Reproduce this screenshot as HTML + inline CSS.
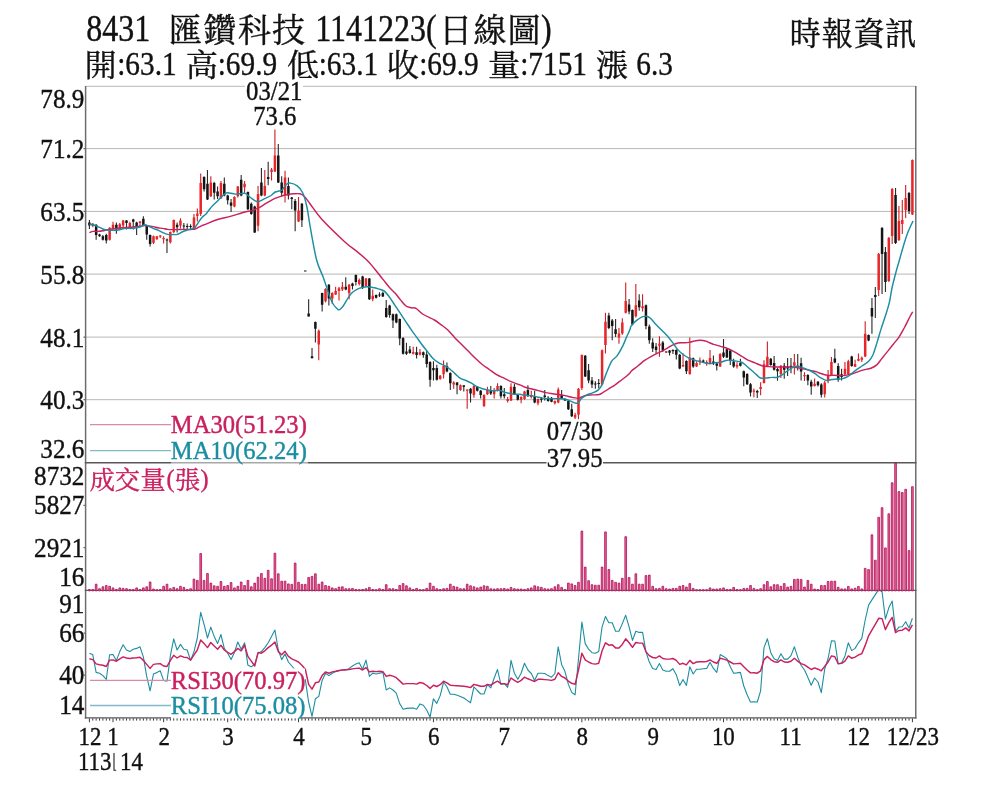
<!DOCTYPE html>
<html lang="zh-Hant"><head><meta charset="utf-8"><title>chart</title><style>html,body{margin:0;padding:0;background:#fff}body{width:1000px;height:800px;overflow:hidden}</style></head><body>
<svg width="1000" height="800" viewBox="0 0 1000 800" style="display:block;font-family:'Liberation Serif',serif">
<title>8431 匯鑽科技 1141223(日線圖) 時報資訊</title>
<desc>開:63.1 高:69.9 低:63.1 收:69.9 量:7151 漲 6.3 — 日K線、MA30(51.23)、MA10(62.24)、成交量(張)、RSI30(70.97)、RSI10(75.08)</desc>
<rect width="1000" height="800" fill="#fff"/>
<g stroke="#b8b8b8" stroke-width="1" fill="none">
<path d="M86 86.3H916"/>
<path d="M86 148.6H916"/>
<path d="M86 211.4H916"/>
<path d="M86 274.1H916"/>
<path d="M86 337.1H916"/>
<path d="M86 399.7H916"/>
</g>
<path d="M92.77 223.0V227.2M109.64 227.2V240.4M113.01 221.8V229.6M119.76 223.0V230.2M123.13 220.0V228.4M129.88 221.8V228.4M140.00 221.0V226.0M153.49 235.6V244.0M156.86 236.0V239.8M160.23 235.1V238.0M163.61 236.2V243.4M170.35 231.4V243.4M173.73 219.4V233.2M180.47 218.2V228.4M193.96 214.0V229.8M197.34 208.5V221.6M200.71 173.5V216.1M210.83 176.2V196.9M220.95 181.0V198.9M234.44 196.2V207.2M237.81 185.9V197.5M244.56 181.0V192.7M258.05 185.9V231.2M264.80 170.1V196.2M271.54 168.0V180.4M274.92 129.5V172.1M285.03 170.7V202.4M298.53 196.9V221.9M318.76 329.4V360.3M325.51 288.2V302.6M332.26 292.3V304.0M335.63 286.8V295.1M339.00 286.8V300.5M342.38 282.0V290.9M349.12 284.1V299.2M359.24 278.6V285.4M365.99 277.9V286.8M372.73 289.6V301.2M413.21 346.8V354.4M419.95 349.1V355.5M440.19 375.0V379.8M443.57 360.5V378.4M453.68 381.2V388.7M460.43 384.6V390.8M467.18 389.4V408.7M473.92 385.3V397.7M484.04 394.2V406.9M487.41 386.7V394.9M494.16 388.0V398.4M497.53 383.2V391.5M507.65 397.0V402.5M511.02 383.2V401.1M521.14 396.3V403.2M524.52 390.8V399.7M531.26 390.8V398.4M538.01 398.4V405.2M554.87 400.4V404.5M558.25 387.4V403.2M575.11 412.8V419.0M578.49 388.0V419.2M581.86 354.4V390.1M602.10 349.6V385.3M605.47 312.8V353.4M618.96 327.9V343.7M622.33 318.3V334.8M625.71 282.6V313.5M635.83 283.9V317.6M642.57 294.2V311.4M659.44 336.2V356.8M666.18 350.9V353.1M683.05 353.4V366.7M689.79 337.5V374.7M696.54 361.6V367.1M699.91 357.4V365.0M706.66 360.2V365.7M710.03 349.9V363.6M720.15 353.3V367.0M737.02 362.2V368.4M753.88 388.4V397.3M760.63 382.2V395.2M764.00 360.2V383.5M767.37 341.6V367.0M780.87 365.0V378.0M794.36 354.0V374.6M804.48 372.2V381.1M814.60 378.4V386.6M824.71 381.1V397.6M828.09 370.1V383.2M831.46 357.0V375.6M844.95 361.9V376.3M848.33 359.8V374.9M855.07 359.8V367.1M858.44 353.6V361.2M861.82 356.4V361.9M865.19 321.3V357.0M878.68 253.0V296.0M888.80 237.0V282.0M892.17 188.0V244.0M898.92 206.0V241.0M902.29 200.0V234.0M905.67 185.0V218.0M912.41 159.5V215.0" stroke="#cf1f25" stroke-width="1.1" fill="none"/>
<path d="M89.40 220.0V229.0M96.15 224.2V239.8M99.52 233.8V236.8M102.89 235.0V240.6M106.27 233.8V243.4M116.38 222.4V233.8M126.50 220.0V229.6M133.25 218.8V229.6M136.62 221.8V235.0M143.37 216.2V226.0M146.74 225.4V239.8M150.11 234.4V246.4M166.98 238.6V253.0M177.10 222.4V232.6M183.84 223.0V230.2M187.22 223.6V229.6M190.59 224.2V229.0M204.08 176.2V191.4M207.46 170.1V199.9M214.20 181.7V199.6M217.57 186.5V198.9M224.32 177.6V196.2M227.69 194.8V204.4M231.07 198.9V212.0M241.19 174.9V196.2M247.93 191.4V209.9M251.30 202.4V214.7M254.68 205.8V232.9M261.42 168.0V196.2M268.17 161.8V185.2M278.29 143.9V183.1M281.66 176.2V196.2M288.41 177.6V199.6M291.78 196.9V209.2M295.15 198.9V231.2M301.90 203.0V227.1M305.27 270.9V271.1M308.64 299.2V316.4M312.02 348.0V358.3M315.39 321.6V342.5M322.14 292.7V311.5M328.88 284.1V305.4M345.75 277.2V290.2M352.49 282.7V289.6M355.87 274.4V285.4M362.61 275.8V288.9M369.36 277.9V299.9M376.11 294.4V298.5M379.48 292.3V297.1M382.85 291.6V297.1M386.22 299.9V317.7M389.60 304.7V317.7M392.97 313.6V328.0M396.34 313.6V323.2M399.72 318.4V345.2M403.09 337.2V354.4M406.46 342.7V355.1M409.84 346.1V353.7M416.58 346.8V358.5M423.33 351.6V357.8M426.70 350.9V367.4M430.07 361.2V386.7M433.45 361.2V380.5M436.82 364.7V380.5M446.94 362.6V372.2M450.31 372.2V390.1M457.06 381.9V394.2M463.80 385.3V391.5M470.55 388.0V402.5M477.30 386.0V391.5M480.67 390.1V398.4M490.79 386.0V394.9M500.91 385.3V398.4M504.28 388.0V398.4M514.40 383.9V394.9M517.77 394.2V400.4M527.89 385.3V397.0M534.64 390.8V403.2M541.38 397.0V402.5M544.75 390.1V400.4M548.13 396.3V401.8M551.50 397.0V402.2M561.62 390.1V399.0M564.99 398.4V401.1M568.37 400.4V410.0M571.74 403.8V416.9M585.23 355.1V377.0M588.60 364.0V383.2M591.98 377.0V388.0M595.35 381.2V388.7M598.72 379.1V388.0M608.84 312.8V329.3M612.22 319.0V340.3M615.59 319.0V336.9M629.08 299.1V314.2M632.45 309.4V325.2M639.20 294.2V310.7M645.95 304.6V329.3M649.32 324.5V343.7M652.69 338.2V352.0M656.06 343.0V353.4M662.81 341.0V352.0M669.56 349.9V355.4M672.93 349.2V354.0M676.30 349.2V359.5M679.68 354.0V369.2M686.42 360.2V374.0M693.17 357.5V367.8M703.29 359.5V362.9M713.40 355.4V365.0M716.78 362.9V370.5M723.52 338.9V358.1M726.90 348.5V358.1M730.27 349.9V365.0M733.64 358.8V367.7M740.39 358.8V366.4M743.76 370.5V386.3M747.13 373.2V384.9M750.51 382.9V396.6M757.25 389.7V398.0M770.75 358.1V365.7M774.12 356.0V370.5M777.49 367.7V380.8M784.24 362.9V378.7M787.61 358.1V376.0M790.98 358.1V373.2M797.73 354.0V370.5M801.10 357.7V380.4M807.85 374.2V385.2M811.22 379.7V394.8M817.97 381.1V386.6M821.34 383.2V397.6M834.83 348.8V363.2M838.21 363.2V381.8M841.58 368.7V380.4M851.70 355.7V366.7M868.56 334.4V341.2M871.94 298.0V333.7M875.31 287.0V318.0M882.06 227.0V294.0M885.43 247.0V292.0M895.55 188.0V244.0M909.04 192.0V214.0" stroke="#2a2a2a" stroke-width="1.1" fill="none"/>
<path d="M91.52 223.8h2.5V226.0h-2.5zM108.39 227.8h2.5V239.8h-2.5zM111.76 224.8h2.5V229.0h-2.5zM118.51 224.2h2.5V229.6h-2.5zM121.88 220.6h2.5V225.4h-2.5zM128.63 223.0h2.5V227.8h-2.5zM138.75 221.4h2.5V223.0h-2.5zM152.24 236.2h2.5V242.8h-2.5zM155.61 236.2h2.5V239.2h-2.5zM158.98 235.4h2.5V236.4h-2.5zM162.36 238.0h2.5V239.2h-2.5zM169.10 232.0h2.5V242.2h-2.5zM172.48 220.0h2.5V232.0h-2.5zM179.22 220.6h2.5V225.4h-2.5zM192.71 217.5h2.5V228.5h-2.5zM196.09 213.4h2.5V216.1h-2.5zM199.46 183.1h2.5V214.0h-2.5zM209.58 182.4h2.5V196.2h-2.5zM219.70 183.1h2.5V198.2h-2.5zM233.19 196.9h2.5V206.5h-2.5zM236.56 186.5h2.5V196.2h-2.5zM243.31 183.8h2.5V187.2h-2.5zM256.80 194.1h2.5V225.7h-2.5zM263.55 185.9h2.5V195.5h-2.5zM270.29 169.4h2.5V172.1h-2.5zM273.67 155.6h2.5V171.4h-2.5zM283.78 177.6h2.5V195.5h-2.5zM297.28 210.6h2.5V221.6h-2.5zM317.51 330.8h2.5V344.5h-2.5zM324.26 288.9h2.5V301.2h-2.5zM331.01 293.0h2.5V298.5h-2.5zM334.38 290.9h2.5V294.4h-2.5zM337.75 288.2h2.5V290.9h-2.5zM341.12 286.8h2.5V289.6h-2.5zM347.87 284.7h2.5V293.0h-2.5zM357.99 279.9h2.5V284.1h-2.5zM364.74 278.6h2.5V286.1h-2.5zM371.48 295.7h2.5V299.2h-2.5zM411.96 351.9h2.5V353.7h-2.5zM418.70 352.3h2.5V354.4h-2.5zM438.94 375.7h2.5V379.1h-2.5zM442.32 366.0h2.5V374.3h-2.5zM452.43 382.5h2.5V384.6h-2.5zM459.18 385.3h2.5V390.1h-2.5zM465.93 389.4h2.5V390.8h-2.5zM472.67 386.0h2.5V394.9h-2.5zM482.79 394.9h2.5V405.9h-2.5zM486.16 389.4h2.5V394.2h-2.5zM492.91 390.1h2.5V394.2h-2.5zM496.28 386.0h2.5V390.8h-2.5zM506.40 399.0h2.5V401.1h-2.5zM509.77 386.7h2.5V400.4h-2.5zM519.89 397.0h2.5V399.7h-2.5zM523.27 391.5h2.5V399.0h-2.5zM530.01 394.9h2.5V397.0h-2.5zM536.76 399.0h2.5V403.2h-2.5zM553.62 401.1h2.5V403.2h-2.5zM557.00 389.4h2.5V402.5h-2.5zM573.86 414.8h2.5V417.6h-2.5zM577.24 388.7h2.5V414.8h-2.5zM580.61 355.1h2.5V388.0h-2.5zM600.85 350.2h2.5V384.6h-2.5zM604.22 321.7h2.5V345.1h-2.5zM617.71 333.4h2.5V337.5h-2.5zM621.08 322.4h2.5V333.4h-2.5zM624.46 301.1h2.5V312.8h-2.5zM634.58 305.2h2.5V316.2h-2.5zM641.32 306.3h2.5V308.3h-2.5zM658.19 343.7h2.5V345.8h-2.5zM664.93 351.3h2.5V352.7h-2.5zM681.80 365.0h2.5V366.4h-2.5zM688.54 357.5h2.5V374.0h-2.5zM695.29 363.0h2.5V366.4h-2.5zM698.66 360.2h2.5V362.2h-2.5zM705.41 362.0h2.5V363.9h-2.5zM708.78 358.1h2.5V362.9h-2.5zM718.90 354.0h2.5V366.4h-2.5zM735.77 365.0h2.5V366.4h-2.5zM752.63 390.4h2.5V391.8h-2.5zM759.38 387.0h2.5V389.0h-2.5zM762.75 364.3h2.5V382.9h-2.5zM766.12 356.7h2.5V366.4h-2.5zM779.62 365.7h2.5V373.9h-2.5zM793.11 362.2h2.5V365.7h-2.5zM803.23 374.9h2.5V376.3h-2.5zM813.35 383.8h2.5V385.9h-2.5zM823.46 382.5h2.5V394.2h-2.5zM826.84 374.9h2.5V380.4h-2.5zM830.21 361.9h2.5V374.9h-2.5zM843.70 368.7h2.5V374.2h-2.5zM847.08 361.2h2.5V374.2h-2.5zM853.82 363.9h2.5V366.7h-2.5zM857.19 359.1h2.5V360.8h-2.5zM860.57 357.7h2.5V359.8h-2.5zM863.94 333.7h2.5V356.4h-2.5zM877.43 254.0h2.5V290.0h-2.5zM887.55 238.0h2.5V281.0h-2.5zM890.92 189.0h2.5V236.0h-2.5zM897.67 221.0h2.5V240.0h-2.5zM901.04 220.0h2.5V224.0h-2.5zM904.42 198.0h2.5V210.0h-2.5zM911.16 160.0h2.5V214.5h-2.5z" fill="#e8262a"/>
<path d="M88.15 222.4h2.5V225.4h-2.5zM94.90 224.8h2.5V235.0h-2.5zM98.27 234.4h2.5V236.2h-2.5zM101.64 236.2h2.5V239.8h-2.5zM105.02 235.0h2.5V240.4h-2.5zM115.13 224.8h2.5V229.6h-2.5zM125.25 220.6h2.5V223.0h-2.5zM132.00 219.4h2.5V221.8h-2.5zM135.37 222.4h2.5V226.0h-2.5zM142.12 218.8h2.5V225.4h-2.5zM145.49 226.0h2.5V234.4h-2.5zM148.86 235.0h2.5V244.0h-2.5zM165.73 239.4h2.5V240.4h-2.5zM175.85 224.8h2.5V227.2h-2.5zM182.59 225.4h2.5V226.6h-2.5zM185.97 226.0h2.5V227.0h-2.5zM189.34 226.0h2.5V227.0h-2.5zM202.83 176.9h2.5V189.3h-2.5zM206.21 183.8h2.5V199.6h-2.5zM212.95 183.1h2.5V192.7h-2.5zM216.32 191.4h2.5V196.2h-2.5zM223.07 183.8h2.5V195.5h-2.5zM226.44 195.5h2.5V200.3h-2.5zM229.82 202.4h2.5V205.8h-2.5zM239.94 179.7h2.5V195.5h-2.5zM246.68 192.0h2.5V209.2h-2.5zM250.05 203.7h2.5V214.0h-2.5zM253.43 206.5h2.5V232.6h-2.5zM260.17 182.4h2.5V195.5h-2.5zM266.92 176.9h2.5V179.0h-2.5zM277.04 155.6h2.5V182.4h-2.5zM280.41 182.4h2.5V192.7h-2.5zM287.16 185.9h2.5V195.5h-2.5zM290.53 197.5h2.5V198.9h-2.5zM293.90 201.0h2.5V210.6h-2.5zM300.65 203.7h2.5V220.2h-2.5zM304.02 270.5h2.5V271.5h-2.5zM307.39 313.6h2.5V316.4h-2.5zM310.77 356.2h2.5V358.3h-2.5zM314.14 321.9h2.5V328.7h-2.5zM320.89 293.0h2.5V304.7h-2.5zM327.63 284.7h2.5V298.5h-2.5zM344.50 286.8h2.5V289.6h-2.5zM351.24 283.4h2.5V286.1h-2.5zM354.62 275.1h2.5V282.0h-2.5zM361.36 276.5h2.5V287.5h-2.5zM368.11 278.6h2.5V299.2h-2.5zM374.86 295.1h2.5V297.8h-2.5zM378.23 294.4h2.5V295.5h-2.5zM381.60 293.0h2.5V296.4h-2.5zM384.97 308.1h2.5V317.0h-2.5zM388.35 305.4h2.5V315.0h-2.5zM391.72 314.3h2.5V320.5h-2.5zM395.09 314.3h2.5V322.5h-2.5zM398.47 319.1h2.5V338.4h-2.5zM401.84 337.9h2.5V353.7h-2.5zM405.21 351.6h2.5V353.7h-2.5zM408.59 349.6h2.5V353.0h-2.5zM415.33 352.3h2.5V355.1h-2.5zM422.08 352.3h2.5V355.1h-2.5zM425.45 354.4h2.5V364.0h-2.5zM428.82 361.9h2.5V379.8h-2.5zM432.20 368.1h2.5V370.2h-2.5zM435.57 368.1h2.5V379.8h-2.5zM445.69 366.0h2.5V371.5h-2.5zM449.06 372.9h2.5V383.2h-2.5zM455.81 382.5h2.5V385.3h-2.5zM462.55 385.3h2.5V386.7h-2.5zM469.30 388.7h2.5V393.5h-2.5zM476.05 386.7h2.5V390.8h-2.5zM479.42 390.8h2.5V394.9h-2.5zM489.54 390.1h2.5V393.5h-2.5zM499.66 386.0h2.5V396.3h-2.5zM503.03 394.2h2.5V396.3h-2.5zM513.15 386.7h2.5V394.2h-2.5zM516.52 394.9h2.5V399.7h-2.5zM526.64 390.1h2.5V394.9h-2.5zM533.39 396.3h2.5V402.5h-2.5zM540.13 398.6h2.5V399.7h-2.5zM543.50 395.6h2.5V397.0h-2.5zM546.88 397.7h2.5V401.1h-2.5zM550.25 397.7h2.5V401.8h-2.5zM560.37 394.9h2.5V398.4h-2.5zM563.74 399.0h2.5V400.4h-2.5zM567.12 401.1h2.5V409.3h-2.5zM570.49 409.3h2.5V416.2h-2.5zM583.98 355.7h2.5V376.4h-2.5zM587.35 370.2h2.5V380.5h-2.5zM590.73 380.5h2.5V384.6h-2.5zM594.10 383.5h2.5V384.6h-2.5zM597.47 382.9h2.5V383.9h-2.5zM607.59 315.5h2.5V327.9h-2.5zM610.97 320.4h2.5V325.9h-2.5zM614.34 329.3h2.5V334.1h-2.5zM627.83 304.6h2.5V311.4h-2.5zM631.20 310.1h2.5V324.5h-2.5zM637.95 300.4h2.5V307.3h-2.5zM644.70 305.2h2.5V325.9h-2.5zM648.07 326.5h2.5V340.3h-2.5zM651.44 342.4h2.5V348.5h-2.5zM654.81 346.5h2.5V349.9h-2.5zM661.56 342.4h2.5V350.6h-2.5zM668.31 350.6h2.5V352.7h-2.5zM671.68 349.9h2.5V351.3h-2.5zM675.05 349.9h2.5V354.7h-2.5zM678.43 354.7h2.5V368.5h-2.5zM685.17 360.9h2.5V371.2h-2.5zM691.92 358.2h2.5V366.4h-2.5zM702.04 360.6h2.5V361.7h-2.5zM712.15 361.5h2.5V363.6h-2.5zM715.53 363.6h2.5V365.7h-2.5zM722.27 352.6h2.5V356.7h-2.5zM725.65 349.2h2.5V357.4h-2.5zM729.02 350.5h2.5V360.9h-2.5zM732.39 361.5h2.5V366.4h-2.5zM739.14 362.9h2.5V365.7h-2.5zM742.51 371.2h2.5V377.4h-2.5zM745.88 373.9h2.5V384.2h-2.5zM749.26 384.2h2.5V392.5h-2.5zM756.00 391.1h2.5V392.5h-2.5zM769.50 358.8h2.5V365.0h-2.5zM772.87 362.9h2.5V369.8h-2.5zM776.24 369.1h2.5V371.2h-2.5zM782.99 365.7h2.5V369.8h-2.5zM786.36 366.4h2.5V368.4h-2.5zM789.73 365.7h2.5V367.7h-2.5zM796.48 365.7h2.5V367.0h-2.5zM799.85 363.2h2.5V371.5h-2.5zM806.60 374.9h2.5V380.4h-2.5zM809.97 381.8h2.5V386.6h-2.5zM816.72 381.8h2.5V385.2h-2.5zM820.09 384.5h2.5V394.8h-2.5zM833.58 358.4h2.5V362.5h-2.5zM836.96 366.0h2.5V379.7h-2.5zM840.33 374.2h2.5V377.0h-2.5zM850.45 356.4h2.5V366.0h-2.5zM867.31 335.1h2.5V340.5h-2.5zM870.69 308.0h2.5V316.5h-2.5zM874.06 295.0h2.5V297.0h-2.5zM880.81 228.0h2.5V254.0h-2.5zM884.18 252.0h2.5V282.0h-2.5zM894.30 195.0h2.5V243.0h-2.5zM907.79 193.0h2.5V211.0h-2.5z" fill="#151515"/>
<path d="M89.4 232.6C90.0 232.4 91.8 231.6 93.2 231.4C94.6 231.2 96.4 231.5 98.0 231.4C99.6 231.3 101.2 231.1 102.8 230.8C104.4 230.5 106.0 229.9 107.6 229.6C109.2 229.3 110.8 229.2 112.4 229.0C114.0 228.8 115.6 228.6 117.2 228.4C118.8 228.2 120.4 228.0 122.0 227.8C123.6 227.6 125.2 227.5 126.8 227.4C128.4 227.3 130.0 227.3 131.6 227.2C133.2 227.1 134.8 226.8 136.4 226.6C138.0 226.4 139.8 226.2 141.2 226.0C142.6 225.8 143.6 225.4 144.8 225.4C146.0 225.4 147.0 225.8 148.4 226.0C149.8 226.2 151.6 226.3 153.2 226.6C154.8 226.9 156.4 227.5 158.0 227.8C159.6 228.1 161.2 228.1 162.8 228.4C164.4 228.7 166.0 229.2 167.6 229.4C169.2 229.6 170.8 229.6 172.4 229.6C174.0 229.6 175.6 229.6 177.2 229.6C178.8 229.6 180.4 229.4 182.0 229.4C183.6 229.3 185.2 229.4 186.8 229.4C188.4 229.4 190.2 229.4 191.6 229.4C193.0 229.3 194.0 229.4 195.2 229.0C196.4 228.6 197.6 227.8 198.8 227.2C200.0 226.6 201.2 225.9 202.4 225.4C203.6 224.9 203.5 225.2 206.0 224.2C208.5 223.2 213.3 220.9 217.5 219.5C221.7 218.2 226.7 217.4 231.2 216.1C235.8 214.8 241.5 212.9 245.0 212.0C248.4 211.1 249.6 211.3 251.9 210.6C254.1 209.9 256.4 209.0 258.7 207.9C261.0 206.7 263.3 205.1 265.6 203.7C267.9 202.4 270.2 200.8 272.5 199.6C274.8 198.5 277.1 197.7 279.3 196.9C281.6 196.1 283.9 195.3 286.2 194.8C288.5 194.3 290.8 194.0 293.1 193.8C295.4 193.7 298.1 193.4 300.0 193.8C301.8 194.2 302.4 194.5 304.1 196.2C305.8 197.8 307.0 199.8 310.0 203.7C313.0 207.6 316.2 213.1 322.0 219.5C327.8 225.8 339.2 236.7 344.9 242.0C350.7 247.3 352.8 248.1 356.5 251.1C360.1 254.1 364.0 257.4 366.8 260.0C369.5 262.6 371.0 264.6 373.0 266.9C374.9 269.2 376.6 271.5 378.5 273.7C380.3 276.0 382.1 278.3 384.0 280.6C385.8 282.9 387.6 285.4 389.5 287.5C391.3 289.6 393.1 290.9 395.0 293.0C396.8 295.1 398.6 297.7 400.5 299.9C402.3 302.0 404.1 304.7 406.0 306.0C407.8 307.4 409.8 307.4 411.5 307.8C413.1 308.2 414.0 307.3 416.0 308.4C418.0 309.5 420.3 312.6 423.4 314.5C426.4 316.4 431.4 318.3 434.4 320.0C437.3 321.7 438.9 323.1 441.2 324.8C443.5 326.5 445.8 328.1 448.1 330.3C450.4 332.5 452.7 335.5 455.0 337.9C457.3 340.3 459.6 342.5 461.9 344.7C464.1 347.0 466.4 349.3 468.7 351.6C471.0 353.9 473.3 356.3 475.6 358.5C477.9 360.7 480.2 362.8 482.5 364.7C484.8 366.5 487.1 367.9 489.3 369.5C491.6 371.1 493.9 372.9 496.2 374.3C498.5 375.7 500.8 376.6 503.1 377.7C505.4 378.9 507.7 380.1 510.0 381.2C512.3 382.2 515.2 383.3 516.8 383.9C518.5 384.5 518.8 384.4 520.0 384.9C521.2 385.3 522.0 386.0 523.7 386.7C525.5 387.3 528.3 388.1 530.6 388.7C532.9 389.3 535.2 389.8 537.5 390.4C539.8 391.0 542.1 391.6 544.4 392.2C546.7 392.7 548.9 393.2 551.2 393.5C553.5 393.9 555.8 394.2 558.1 394.5C560.4 394.8 562.7 395.1 565.0 395.6C567.3 396.1 569.6 396.8 571.9 397.3C574.1 397.7 577.1 398.4 578.7 398.4C580.3 398.3 580.1 397.5 581.5 397.0C582.9 396.5 585.1 395.7 587.0 395.3C588.8 395.0 590.4 395.1 592.5 394.9C594.5 394.8 597.5 395.0 599.3 394.5C601.2 394.0 601.9 393.1 603.5 392.2C605.1 391.2 607.1 389.9 609.0 388.7C610.8 387.6 612.6 386.6 614.5 385.3C616.3 384.0 618.1 382.5 620.0 381.2C621.8 379.8 623.8 378.4 625.5 377.0C627.1 375.7 629.0 373.9 630.0 372.9C631.0 372.0 629.9 372.4 631.2 371.2C632.6 370.0 635.8 367.6 638.1 365.7C640.4 363.9 642.7 361.8 645.0 360.2C647.3 358.6 649.6 357.4 651.9 356.1C654.1 354.8 656.4 353.8 658.7 352.7C661.0 351.5 663.3 350.5 665.6 349.2C667.9 348.0 670.4 346.1 672.5 345.1C674.5 344.1 676.1 343.4 678.0 343.0C679.8 342.7 681.6 342.9 683.5 342.8C685.3 342.7 687.1 342.7 689.0 342.4C690.8 342.1 692.6 341.3 694.5 341.0C696.3 340.6 698.1 340.3 700.0 340.3C701.8 340.3 703.8 340.5 705.5 341.0C707.1 341.4 708.6 342.5 710.0 343.0C711.4 343.6 712.0 343.8 713.7 344.4C715.5 344.9 718.3 345.7 720.6 346.4C722.9 347.1 725.2 347.6 727.5 348.5C729.8 349.4 732.1 350.7 734.4 351.9C736.7 353.2 738.9 354.7 741.2 356.0C743.5 357.4 745.8 359.0 748.1 360.2C750.4 361.3 752.7 362.0 755.0 362.9C757.3 363.8 759.6 365.1 761.9 365.7C764.1 366.3 766.4 366.4 768.7 366.6C771.0 366.9 773.3 367.0 775.6 367.0C777.9 367.1 780.2 367.0 782.5 367.0C784.8 367.0 787.1 367.0 789.3 367.0C791.6 367.1 793.9 367.2 796.2 367.5C798.5 367.8 800.8 368.3 803.1 368.8C805.4 369.3 807.7 370.0 810.0 370.5C812.3 371.0 815.2 371.4 816.8 371.9C818.5 372.3 818.2 372.7 820.0 373.2C821.8 373.8 825.1 375.0 827.5 375.3C829.9 375.7 832.1 375.3 834.4 375.3C836.7 375.4 838.9 375.7 841.2 375.6C843.5 375.5 845.8 375.4 848.1 374.9C850.4 374.5 852.7 373.6 855.0 372.9C857.3 372.1 859.6 371.1 861.9 370.4C864.1 369.7 867.1 369.1 868.7 368.7C870.3 368.3 870.1 368.7 871.5 368.0C872.9 367.4 875.1 366.3 877.0 364.6C878.8 362.9 880.6 360.0 882.5 357.7C884.3 355.4 886.1 353.2 888.0 350.9C889.8 348.6 891.6 346.3 893.5 344.0C895.3 341.7 897.1 339.9 899.0 337.1C900.8 334.4 902.6 330.9 904.5 327.5C906.3 324.1 908.6 319.1 910.0 316.5C911.3 313.9 912.3 312.5 912.7 311.7" stroke="#c9205e" stroke-width="1.45" fill="none" stroke-linejoin="round"/>
<path d="M89.4 224.2C90.0 224.3 91.8 224.4 93.2 224.8C94.6 225.2 96.4 225.9 98.0 226.6C99.6 227.3 101.2 228.4 102.8 229.0C104.4 229.6 106.0 230.0 107.6 230.2C109.2 230.4 110.8 230.2 112.4 230.2C114.0 230.2 115.6 230.4 117.2 230.2C118.8 230.0 120.4 229.3 122.0 229.0C123.6 228.7 125.2 228.5 126.8 228.4C128.4 228.3 130.0 228.5 131.6 228.4C133.2 228.3 134.8 228.1 136.4 227.8C138.0 227.5 139.8 227.1 141.2 226.6C142.6 226.1 143.6 224.9 144.8 224.8C146.0 224.7 147.0 225.4 148.4 226.0C149.8 226.6 151.6 227.7 153.2 228.4C154.8 229.1 156.4 229.5 158.0 230.2C159.6 230.9 161.2 231.9 162.8 232.6C164.4 233.3 166.0 234.1 167.6 234.4C169.2 234.7 170.8 234.6 172.4 234.6C174.0 234.6 175.6 234.8 177.2 234.4C178.8 234.0 180.4 232.7 182.0 232.0C183.6 231.3 185.2 230.7 186.8 230.2C188.4 229.7 190.2 229.5 191.6 229.0C193.0 228.5 194.0 228.4 195.2 227.2C196.4 226.0 197.6 223.5 198.8 221.8C200.0 220.1 201.2 218.3 202.4 217.0C203.6 215.7 204.6 215.5 206.0 214.0C207.4 212.5 208.7 210.0 210.6 207.9C212.5 205.7 215.2 203.3 217.5 201.0C219.8 198.7 222.6 195.5 224.4 194.1C226.1 192.7 226.0 192.7 227.8 192.7C229.6 192.7 232.5 194.0 235.4 194.1C238.2 194.2 242.5 192.8 245.0 193.4C247.5 194.0 248.4 196.2 250.5 197.5C252.5 198.9 255.1 201.4 257.4 201.7C259.6 201.9 261.9 199.9 264.2 198.9C266.5 197.9 269.3 196.6 271.1 195.5C272.9 194.3 273.4 193.0 275.2 192.0C277.1 191.1 280.3 191.2 282.1 190.0C283.9 188.7 284.8 185.6 286.2 184.5C287.6 183.3 288.5 182.9 290.3 183.1C292.2 183.3 295.2 184.3 297.2 185.9C299.3 187.5 301.1 189.3 302.7 192.7C304.3 196.2 305.6 201.0 306.8 206.5C308.1 212.0 308.4 216.8 310.0 225.7C311.6 234.6 314.4 251.3 316.6 260.0C318.9 268.7 321.4 272.1 323.5 277.9C325.6 283.6 327.4 290.0 329.0 294.4C330.6 298.7 331.7 301.6 333.1 304.0C334.5 306.4 336.2 307.8 337.2 308.8C338.3 309.8 338.4 310.1 339.3 309.8C340.2 309.4 341.5 308.4 342.7 306.7C344.0 305.1 345.5 302.0 346.9 299.9C348.2 297.7 349.4 295.4 351.0 293.7C352.6 292.0 354.6 290.6 356.5 289.6C358.3 288.5 360.1 287.9 362.0 287.5C363.8 287.0 365.6 286.8 367.5 286.8C369.3 286.8 371.1 287.1 373.0 287.5C374.8 287.8 376.6 288.3 378.5 288.9C380.3 289.4 382.1 289.6 384.0 290.9C385.8 292.3 387.6 294.7 389.5 297.1C391.3 299.5 393.1 302.6 395.0 305.4C396.8 308.1 398.6 310.9 400.5 313.6C402.3 316.4 404.1 319.1 406.0 321.9C407.8 324.6 409.8 327.7 411.5 330.1C413.1 332.5 414.2 333.8 416.0 336.3C417.8 338.7 420.1 342.2 422.0 344.7C423.9 347.3 425.7 349.3 427.5 351.6C429.3 353.9 431.2 356.7 433.0 358.5C434.8 360.3 436.7 361.5 438.5 362.6C440.3 363.8 442.2 364.3 444.0 365.4C445.8 366.4 447.7 367.4 449.5 368.8C451.3 370.2 453.2 372.0 455.0 373.6C456.8 375.2 458.6 377.3 460.5 378.4C462.3 379.6 464.1 379.7 466.0 380.5C467.8 381.3 469.6 382.2 471.5 383.2C473.3 384.3 475.1 385.8 477.0 386.7C478.8 387.6 480.6 388.2 482.5 388.7C484.3 389.3 486.1 389.8 488.0 390.1C489.8 390.4 491.6 390.8 493.5 390.8C495.3 390.8 497.1 389.9 499.0 390.1C500.8 390.3 502.6 391.6 504.5 392.2C506.3 392.7 508.1 393.2 510.0 393.5C511.8 393.9 513.8 394.1 515.5 394.2C517.1 394.3 518.6 394.0 520.0 394.2C521.4 394.4 522.0 395.1 523.7 395.3C525.5 395.6 528.3 395.3 530.6 395.6C532.9 395.9 535.2 396.5 537.5 397.0C539.8 397.4 542.1 398.1 544.4 398.4C546.7 398.6 548.9 398.6 551.2 398.6C553.5 398.7 555.8 398.6 558.1 398.6C560.4 398.7 562.9 398.6 565.0 399.0C567.0 399.5 568.6 400.4 570.5 401.1C572.3 401.8 574.6 402.9 576.0 403.2C577.4 403.4 577.8 403.3 578.7 402.5C579.6 401.7 580.1 399.6 581.5 398.4C582.9 397.1 585.1 395.8 587.0 394.9C588.8 394.0 590.6 393.7 592.5 392.9C594.3 392.1 596.4 391.5 598.0 390.1C599.6 388.7 600.7 387.4 602.1 384.6C603.5 381.9 604.6 377.5 606.2 373.6C607.8 369.7 609.9 364.2 611.7 361.2C613.6 358.3 615.4 358.3 617.2 355.7C619.0 353.2 621.1 349.3 622.7 346.1C624.3 342.9 625.6 339.2 626.8 336.5C628.1 333.7 629.3 331.4 630.0 329.6C630.7 327.8 630.1 327.4 631.2 325.9C632.4 324.3 634.9 321.8 636.7 320.4C638.6 318.9 640.6 317.6 642.2 316.9C643.8 316.2 645.0 316.0 646.4 316.2C647.7 316.5 648.9 316.9 650.5 318.3C652.1 319.7 654.1 322.5 656.0 324.5C657.8 326.4 659.6 328.2 661.5 330.0C663.3 331.8 665.1 333.4 667.0 335.5C668.8 337.5 670.6 339.9 672.5 342.4C674.3 344.8 676.1 347.9 678.0 349.9C679.8 352.0 681.6 353.4 683.5 354.7C685.3 356.1 687.1 357.2 689.0 358.2C690.8 359.1 692.6 359.7 694.5 360.2C696.3 360.8 698.1 361.1 700.0 361.6C701.8 362.1 703.8 362.6 705.5 363.0C707.1 363.3 708.6 363.7 710.0 363.7C711.4 363.7 712.0 363.2 713.7 362.9C715.5 362.7 718.3 362.7 720.6 362.2C722.9 361.8 725.2 360.4 727.5 360.2C729.8 359.9 732.1 360.6 734.4 360.9C736.7 361.2 739.4 361.3 741.2 362.0C743.1 362.6 743.8 363.7 745.4 365.0C747.0 366.3 749.0 368.2 750.9 369.8C752.7 371.4 754.8 373.2 756.4 374.6C758.0 376.0 758.9 377.5 760.5 378.0C762.1 378.6 764.1 378.2 766.0 378.0C767.8 377.9 769.6 377.5 771.5 377.4C773.3 377.2 775.1 377.8 777.0 377.4C778.8 376.9 780.6 375.8 782.5 374.6C784.3 373.5 786.1 371.7 788.0 370.5C789.8 369.2 791.6 367.7 793.5 367.0C795.3 366.4 797.1 366.1 799.0 366.4C800.8 366.6 802.6 367.7 804.5 368.4C806.3 369.1 808.1 369.6 810.0 370.5C811.8 371.4 813.8 372.8 815.5 373.9C817.1 375.1 818.2 376.3 820.0 377.4C821.8 378.4 824.2 380.1 826.1 380.4C828.1 380.8 829.8 379.7 831.6 379.5C833.4 379.2 835.3 379.2 837.1 379.0C838.9 378.9 840.8 379.1 842.6 378.6C844.4 378.2 846.0 377.6 848.1 376.3C850.2 375.0 852.7 372.5 855.0 370.8C857.3 369.1 859.6 367.6 861.9 366.0C864.1 364.4 866.9 363.0 868.7 361.2C870.6 359.3 871.5 358.1 872.9 355.0C874.2 351.9 875.6 347.0 877.0 342.6C878.4 338.3 879.7 333.2 881.1 328.9C882.5 324.5 883.8 320.8 885.2 316.5C886.6 312.1 888.2 307.5 889.3 302.7C890.5 298.0 890.9 293.1 892.0 288.0C893.1 282.9 894.7 277.0 896.0 272.0C897.3 267.0 898.7 262.7 900.0 258.0C901.3 253.3 902.7 248.3 904.0 244.0C905.3 239.7 906.5 235.8 908.0 232.0C909.5 228.2 912.2 222.8 913.0 221.0" stroke="#1c8ea2" stroke-width="1.45" fill="none" stroke-linejoin="round"/>
<polyline points="89.4,653.2 92.8,654.8 96.1,672.4 99.5,673.2 102.9,675.6 106.3,679.3 109.6,654.8 113.0,654.5 116.4,660.4 119.8,651.6 123.1,644.7 126.5,650.0 129.9,651.6 133.2,649.2 136.6,648.4 140.0,646.8 143.4,657.2 146.7,676.4 150.1,690.8 153.5,674.0 156.9,672.4 160.2,670.8 163.6,680.4 167.0,681.2 170.4,655.6 173.7,638.8 177.1,650.0 180.5,644.4 183.8,649.2 187.2,650.0 190.6,660.4 194.0,651.6 197.3,638.0 200.7,612.4 204.1,624.4 207.5,638.0 210.8,627.1 214.2,636.4 217.6,643.6 220.9,634.5 224.3,648.4 227.7,653.2 231.1,659.6 234.4,652.4 237.8,642.0 241.2,649.2 244.6,642.8 247.9,665.2 251.3,666.8 254.7,664.4 258.1,653.2 261.4,651.6 264.8,647.6 268.2,642.8 271.5,636.4 274.9,630.0 278.3,650.0 281.7,659.6 285.0,654.0 288.4,662.0 291.8,666.0 295.2,670.0 298.5,673.2 301.9,677.2 305.3,679.6 308.6,702.0 312.0,716.4 315.4,698.8 318.8,696.4 322.1,680.4 325.5,673.2 328.9,675.6 332.3,673.2 335.6,671.6 339.0,670.8 342.4,670.0 345.7,670.0 349.1,668.4 352.5,666.0 355.9,663.9 359.2,662.8 362.6,669.2 366.0,660.1 369.4,676.4 372.7,673.2 376.1,674.0 379.5,673.2 382.9,672.4 386.2,690.0 389.6,687.9 393.0,690.0 396.3,693.2 399.7,703.6 403.1,709.2 406.5,708.4 409.8,708.1 413.2,708.1 416.6,709.2 420.0,703.9 423.3,705.2 426.7,710.0 430.1,717.2 433.4,698.8 436.8,703.3 440.2,695.6 443.6,682.0 446.9,686.8 450.3,694.3 453.7,694.3 457.1,695.3 460.4,696.4 463.8,698.0 467.2,700.4 470.5,702.8 473.9,686.8 477.3,690.5 480.7,694.0 484.0,694.0 487.4,684.4 490.8,687.9 494.2,678.0 497.5,669.5 500.9,684.4 504.3,683.6 507.7,687.3 511.0,660.4 514.4,673.2 517.8,679.3 521.1,673.2 524.5,663.3 527.9,670.0 531.3,673.5 534.6,680.4 538.0,673.2 541.4,673.2 544.8,673.5 548.1,675.6 551.5,677.2 554.9,673.5 558.2,646.8 561.6,664.4 565.0,671.6 568.4,684.4 571.7,692.4 575.1,694.8 578.5,658.8 581.9,622.0 585.2,643.6 588.6,649.2 592.0,652.7 595.4,653.2 598.7,651.6 602.1,626.8 605.5,616.4 608.8,622.8 612.2,622.8 615.6,631.3 619.0,631.3 622.3,623.6 625.7,615.3 629.1,626.8 632.5,640.4 635.8,631.3 639.2,632.4 642.6,632.4 645.9,651.6 649.3,662.0 652.7,668.4 656.1,669.5 659.4,663.6 662.8,670.0 666.2,671.3 669.6,671.3 672.9,668.7 676.3,674.8 679.7,685.5 683.0,679.6 686.4,685.5 689.8,666.8 693.2,674.0 696.5,669.2 699.9,669.2 703.3,668.7 706.7,668.4 710.0,662.3 713.4,668.4 716.8,672.4 720.2,654.5 723.5,656.4 726.9,658.8 730.3,666.8 733.6,673.2 737.0,672.9 740.4,672.4 743.8,686.0 747.1,694.8 750.5,702.0 753.9,701.7 757.3,702.0 760.6,690.8 764.0,647.6 767.4,638.8 770.7,652.4 774.1,658.8 777.5,660.4 780.9,653.7 784.2,659.1 787.6,659.1 791.0,655.6 794.4,646.8 797.7,657.2 801.1,665.2 804.5,670.0 807.8,677.2 811.2,685.2 814.6,678.0 818.0,682.0 821.3,692.6 824.7,669.0 828.1,658.5 831.5,640.7 834.8,641.0 838.2,663.8 841.6,662.9 845.0,655.9 848.3,642.8 851.7,650.6 855.1,648.4 858.4,642.8 861.8,638.4 865.2,620.0 868.6,605.1 871.9,599.9 875.3,594.6 878.7,589.4 882.1,592.0 885.4,619.1 888.8,607.8 892.2,601.1 895.5,631.4 898.9,627.0 902.3,626.7 905.7,621.8 909.0,627.9 912.4,618.3" stroke="#1c8ea2" stroke-width="1.1" fill="none" stroke-linejoin="round"/>
<polyline points="89.4,658.8 92.8,659.6 96.1,663.9 99.5,664.7 102.9,665.2 106.3,666.5 109.6,660.1 113.0,659.9 116.4,661.2 119.8,658.8 123.1,656.9 126.5,658.0 129.9,658.5 133.2,658.0 136.6,657.7 140.0,657.2 143.4,660.4 146.7,664.4 150.1,668.4 153.5,664.4 156.9,663.9 160.2,663.6 163.6,666.0 167.0,666.5 170.4,660.4 173.7,655.3 177.1,658.0 180.5,655.9 183.8,657.2 187.2,657.5 190.6,660.1 194.0,654.8 197.3,650.0 200.7,639.9 204.1,643.6 207.5,647.6 210.8,642.5 214.2,646.0 217.6,649.2 220.9,645.2 224.3,650.0 227.7,652.4 231.1,654.3 234.4,651.6 237.8,648.4 241.2,650.8 244.6,645.2 247.9,656.4 251.3,661.2 254.7,666.0 258.1,652.4 261.4,653.2 264.8,650.8 268.2,647.6 271.5,645.2 274.9,642.0 278.3,651.6 281.7,654.8 285.0,651.3 288.4,656.4 291.8,658.8 295.2,660.4 298.5,662.0 301.9,665.2 305.3,669.2 308.6,684.4 312.0,689.2 315.4,682.8 318.8,682.0 322.1,675.6 325.5,671.9 328.9,673.2 332.3,671.9 335.6,671.3 339.0,670.5 342.4,670.0 345.7,669.7 349.1,669.5 352.5,668.9 355.9,668.4 359.2,668.1 362.6,670.0 366.0,667.6 369.4,671.9 372.7,671.3 376.1,671.6 379.5,671.3 382.9,671.6 386.2,676.4 389.6,675.3 393.0,676.1 396.3,677.7 399.7,680.9 403.1,684.1 406.5,683.6 409.8,683.6 413.2,683.6 416.6,684.1 420.0,682.5 423.3,683.3 426.7,685.5 430.1,688.4 433.4,685.2 436.8,686.5 440.2,684.7 443.6,681.2 446.9,682.8 450.3,685.2 453.7,685.5 457.1,685.7 460.4,686.0 463.8,686.3 467.2,686.8 470.5,687.6 473.9,684.4 477.3,685.2 480.7,686.3 484.0,686.3 487.4,684.4 490.8,685.2 494.2,682.8 497.5,681.2 500.9,683.6 504.3,683.6 507.7,684.7 511.0,678.0 514.4,680.4 517.8,682.3 521.1,680.4 524.5,677.2 527.9,678.8 531.3,680.1 534.6,681.5 538.0,679.3 541.4,679.3 544.8,679.6 548.1,679.9 551.5,680.4 554.9,679.3 558.2,672.7 561.6,676.4 565.0,678.0 568.4,681.2 571.7,683.3 575.1,684.4 578.5,670.0 581.9,653.2 585.2,659.9 588.6,662.0 592.0,663.6 595.4,664.1 598.7,663.3 602.1,650.8 605.5,642.8 608.8,645.2 612.2,644.7 615.6,647.9 619.0,647.9 622.3,644.4 625.7,638.8 629.1,642.8 632.5,647.3 635.8,642.5 639.2,643.1 642.6,643.1 645.9,651.6 649.3,655.6 652.7,657.5 656.1,658.0 659.4,655.9 662.8,658.5 666.2,659.1 669.6,659.1 672.9,658.5 676.3,660.4 679.7,664.4 683.0,663.3 686.4,664.9 689.8,660.4 693.2,663.6 696.5,662.0 699.9,661.7 703.3,661.7 706.7,661.5 710.0,659.9 713.4,662.0 716.8,663.3 720.2,658.3 723.5,659.1 726.9,660.1 730.3,662.0 733.6,663.9 737.0,663.6 740.4,663.3 743.8,666.8 747.1,670.0 750.5,672.9 753.9,672.7 757.3,673.2 760.6,670.8 764.0,659.6 767.4,656.4 770.7,659.6 774.1,661.7 777.5,662.3 780.9,659.9 784.2,662.0 787.6,662.3 791.0,661.2 794.4,658.3 797.7,661.2 801.1,663.6 804.5,664.9 807.8,667.1 811.2,669.5 814.6,667.9 818.0,669.2 821.3,670.8 824.7,666.4 828.1,662.0 831.5,655.9 834.8,656.8 838.2,663.8 841.6,663.4 845.0,661.1 848.3,655.9 851.7,658.2 855.1,657.1 858.4,655.0 861.8,653.6 865.2,645.4 868.6,635.8 871.9,630.2 875.3,624.4 878.7,618.3 882.1,618.6 885.4,629.6 888.8,622.6 892.2,617.4 895.5,632.6 898.9,630.5 902.3,630.2 905.7,627.9 909.0,630.9 912.4,624.9" stroke="#c9205e" stroke-width="1.45" fill="none" stroke-linejoin="round"/>
<g fill="#fff">
<rect x="245" y="78" width="58" height="49.5"/>
<rect x="546.5" y="421" width="56.5" height="47"/>
<rect x="170" y="413" width="138" height="50.5"/>
<rect x="170" y="668.5" width="135" height="48.5"/>
<rect x="89" y="466" width="120" height="27"/>
</g>
<g fill="none">
<path d="M85.6 86V718.5" stroke="#6e6e6e" stroke-width="1.5"/>
<path d="M915.8 86V718.5" stroke="#585858" stroke-width="1.3"/>
<path d="M84.8 462.7H171M307.5 462.7H546.5M603 462.7H916.4" stroke="#585858" stroke-width="1.35"/>
<path d="M84.8 590.3H916.4" stroke="#585858" stroke-width="1.35"/>
<path d="M84.8 717.8H171M300 717.8H916.4" stroke="#585858" stroke-width="1.35"/>
</g>
<path d="M171 462.7H307.5" stroke="#a8a8a8" stroke-width="1.4"/>
<path d="M88.55 590.9v-1.4h1.7v1.4zM91.92 590.9v-1.4h1.7v1.4zM95.30 590.9v-6.7h1.7v6.7zM98.67 590.9v-2.2h1.7v2.2zM102.04 590.9v-4.1h1.7v4.1zM105.42 590.9v-5.4h1.7v5.4zM108.79 590.9v-4.6h1.7v4.6zM112.16 590.9v-3.0h1.7v3.0zM115.53 590.9v-1.4h1.7v1.4zM118.91 590.9v-3.0h1.7v3.0zM122.28 590.9v-2.5h1.7v2.5zM125.65 590.9v-2.2h1.7v2.2zM129.03 590.9v-1.4h1.7v1.4zM132.40 590.9v-1.4h1.7v1.4zM135.77 590.9v-3.0h1.7v3.0zM139.15 590.9v-1.4h1.7v1.4zM142.52 590.9v-3.0h1.7v3.0zM145.89 590.9v-4.1h1.7v4.1zM149.26 590.9v-8.9h1.7v8.9zM152.64 590.9v-1.9h1.7v1.9zM156.01 590.9v-1.2h1.7v1.2zM159.38 590.9v-1.4h1.7v1.4zM162.76 590.9v-4.6h1.7v4.6zM166.13 590.9v-6.7h1.7v6.7zM169.50 590.9v-2.2h1.7v2.2zM172.88 590.9v-3.5h1.7v3.5zM176.25 590.9v-2.2h1.7v2.2zM179.62 590.9v-4.6h1.7v4.6zM182.99 590.9v-3.5h1.7v3.5zM186.37 590.9v-1.4h1.7v1.4zM189.74 590.9v-2.2h1.7v2.2zM193.11 590.9v-11.8h1.7v11.8zM196.49 590.9v-10.5h1.7v10.5zM199.86 590.9v-37.4h1.7v37.4zM203.23 590.9v-10.5h1.7v10.5zM206.61 590.9v-17.4h1.7v17.4zM209.98 590.9v-7.8h1.7v7.8zM213.35 590.9v-5.1h1.7v5.1zM216.72 590.9v-4.6h1.7v4.6zM220.10 590.9v-9.4h1.7v9.4zM223.47 590.9v-4.6h1.7v4.6zM226.84 590.9v-5.4h1.7v5.4zM230.22 590.9v-8.3h1.7v8.3zM233.59 590.9v-3.0h1.7v3.0zM236.96 590.9v-4.6h1.7v4.6zM240.34 590.9v-8.9h1.7v8.9zM243.71 590.9v-5.4h1.7v5.4zM247.08 590.9v-10.5h1.7v10.5zM250.45 590.9v-4.1h1.7v4.1zM253.83 590.9v-7.8h1.7v7.8zM257.20 590.9v-13.7h1.7v13.7zM260.57 590.9v-17.4h1.7v17.4zM263.95 590.9v-12.6h1.7v12.6zM267.32 590.9v-20.6h1.7v20.6zM270.69 590.9v-12.1h1.7v12.1zM274.06 590.9v-37.7h1.7v37.7zM277.44 590.9v-17.1h1.7v17.1zM280.81 590.9v-9.7h1.7v9.7zM284.18 590.9v-9.7h1.7v9.7zM287.56 590.9v-7.0h1.7v7.0zM290.93 590.9v-6.5h1.7v6.5zM294.30 590.9v-27.8h1.7v27.8zM297.68 590.9v-8.6h1.7v8.6zM301.05 590.9v-6.5h1.7v6.5zM304.42 590.9v-6.5h1.7v6.5zM307.79 590.9v-13.4h1.7v13.4zM311.17 590.9v-14.5h1.7v14.5zM314.54 590.9v-17.1h1.7v17.1zM317.91 590.9v-6.7h1.7v6.7zM321.29 590.9v-8.9h1.7v8.9zM324.66 590.9v-5.4h1.7v5.4zM328.03 590.9v-4.6h1.7v4.6zM331.41 590.9v-3.0h1.7v3.0zM334.78 590.9v-2.2h1.7v2.2zM338.15 590.9v-3.8h1.7v3.8zM341.52 590.9v-4.1h1.7v4.1zM344.90 590.9v-2.2h1.7v2.2zM348.27 590.9v-2.2h1.7v2.2zM351.64 590.9v-2.5h1.7v2.5zM355.02 590.9v-1.4h1.7v1.4zM358.39 590.9v-1.2h1.7v1.2zM361.76 590.9v-1.4h1.7v1.4zM365.14 590.9v-2.2h1.7v2.2zM368.51 590.9v-3.5h1.7v3.5zM371.88 590.9v-1.4h1.7v1.4zM375.25 590.9v-1.2h1.7v1.2zM378.63 590.9v-2.2h1.7v2.2zM382.00 590.9v-1.4h1.7v1.4zM385.37 590.9v-6.2h1.7v6.2zM388.75 590.9v-2.2h1.7v2.2zM392.12 590.9v-2.2h1.7v2.2zM395.49 590.9v-1.4h1.7v1.4zM398.87 590.9v-5.4h1.7v5.4zM402.24 590.9v-7.3h1.7v7.3zM405.61 590.9v-5.1h1.7v5.1zM408.99 590.9v-3.0h1.7v3.0zM412.36 590.9v-1.4h1.7v1.4zM415.73 590.9v-2.5h1.7v2.5zM419.10 590.9v-1.2h1.7v1.2zM422.48 590.9v-1.2h1.7v1.2zM425.85 590.9v-2.5h1.7v2.5zM429.22 590.9v-7.8h1.7v7.8zM432.60 590.9v-4.6h1.7v4.6zM435.97 590.9v-2.2h1.7v2.2zM439.34 590.9v-1.4h1.7v1.4zM442.72 590.9v-2.2h1.7v2.2zM446.09 590.9v-2.5h1.7v2.5zM449.46 590.9v-6.7h1.7v6.7zM452.83 590.9v-4.6h1.7v4.6zM456.21 590.9v-3.8h1.7v3.8zM459.58 590.9v-2.2h1.7v2.2zM462.95 590.9v-2.2h1.7v2.2zM466.33 590.9v-6.7h1.7v6.7zM469.70 590.9v-5.1h1.7v5.1zM473.07 590.9v-4.1h1.7v4.1zM476.45 590.9v-3.0h1.7v3.0zM479.82 590.9v-3.8h1.7v3.8zM483.19 590.9v-5.1h1.7v5.1zM486.56 590.9v-4.6h1.7v4.6zM489.94 590.9v-2.2h1.7v2.2zM493.31 590.9v-1.9h1.7v1.9zM496.68 590.9v-2.2h1.7v2.2zM500.06 590.9v-2.2h1.7v2.2zM503.43 590.9v-2.5h1.7v2.5zM506.80 590.9v-1.9h1.7v1.9zM510.17 590.9v-3.5h1.7v3.5zM513.55 590.9v-2.2h1.7v2.2zM516.92 590.9v-1.9h1.7v1.9zM520.29 590.9v-1.9h1.7v1.9zM523.67 590.9v-1.4h1.7v1.4zM527.04 590.9v-2.2h1.7v2.2zM530.41 590.9v-3.0h1.7v3.0zM533.79 590.9v-5.1h1.7v5.1zM537.16 590.9v-4.1h1.7v4.1zM540.53 590.9v-3.5h1.7v3.5zM543.90 590.9v-2.2h1.7v2.2zM547.28 590.9v-1.9h1.7v1.9zM550.65 590.9v-2.2h1.7v2.2zM554.02 590.9v-4.1h1.7v4.1zM557.40 590.9v-6.2h1.7v6.2zM560.77 590.9v-3.5h1.7v3.5zM564.14 590.9v-1.4h1.7v1.4zM567.52 590.9v-7.8h1.7v7.8zM570.89 590.9v-7.0h1.7v7.0zM574.26 590.9v-5.4h1.7v5.4zM577.63 590.9v-8.6h1.7v8.6zM581.01 590.9v-59.8h1.7v59.8zM584.38 590.9v-23.8h1.7v23.8zM587.75 590.9v-10.2h1.7v10.2zM591.13 590.9v-6.2h1.7v6.2zM594.50 590.9v-5.7h1.7v5.7zM597.87 590.9v-5.7h1.7v5.7zM601.25 590.9v-23.8h1.7v23.8zM604.62 590.9v-59.0h1.7v59.0zM607.99 590.9v-21.4h1.7v21.4zM611.37 590.9v-10.5h1.7v10.5zM614.74 590.9v-8.6h1.7v8.6zM618.11 590.9v-7.8h1.7v7.8zM621.48 590.9v-12.6h1.7v12.6zM624.86 590.9v-54.2h1.7v54.2zM628.23 590.9v-13.4h1.7v13.4zM631.60 590.9v-6.7h1.7v6.7zM634.98 590.9v-17.1h1.7v17.1zM638.35 590.9v-6.7h1.7v6.7zM641.72 590.9v-6.7h1.7v6.7zM645.10 590.9v-15.3h1.7v15.3zM648.47 590.9v-15.8h1.7v15.8zM651.84 590.9v-4.6h1.7v4.6zM655.21 590.9v-2.2h1.7v2.2zM658.59 590.9v-2.5h1.7v2.5zM661.96 590.9v-4.6h1.7v4.6zM665.33 590.9v-2.2h1.7v2.2zM668.71 590.9v-1.9h1.7v1.9zM672.08 590.9v-2.5h1.7v2.5zM675.45 590.9v-2.5h1.7v2.5zM678.83 590.9v-4.6h1.7v4.6zM682.20 590.9v-5.4h1.7v5.4zM685.57 590.9v-3.8h1.7v3.8zM688.94 590.9v-7.3h1.7v7.3zM692.32 590.9v-2.5h1.7v2.5zM695.69 590.9v-1.2h1.7v1.2zM699.06 590.9v-1.2h1.7v1.2zM702.44 590.9v-1.2h1.7v1.2zM705.81 590.9v-1.2h1.7v1.2zM709.18 590.9v-3.0h1.7v3.0zM712.55 590.9v-1.9h1.7v1.9zM715.93 590.9v-1.9h1.7v1.9zM719.30 590.9v-2.2h1.7v2.2zM722.67 590.9v-3.0h1.7v3.0zM726.05 590.9v-1.4h1.7v1.4zM729.42 590.9v-1.4h1.7v1.4zM732.79 590.9v-3.5h1.7v3.5zM736.17 590.9v-1.4h1.7v1.4zM739.54 590.9v-1.2h1.7v1.2zM742.91 590.9v-2.5h1.7v2.5zM746.28 590.9v-2.5h1.7v2.5zM749.66 590.9v-5.4h1.7v5.4zM753.03 590.9v-2.5h1.7v2.5zM756.40 590.9v-1.2h1.7v1.2zM759.78 590.9v-2.2h1.7v2.2zM763.15 590.9v-6.2h1.7v6.2zM766.52 590.9v-9.4h1.7v9.4zM769.90 590.9v-4.1h1.7v4.1zM773.27 590.9v-6.2h1.7v6.2zM776.64 590.9v-6.2h1.7v6.2zM780.01 590.9v-4.6h1.7v4.6zM783.39 590.9v-7.3h1.7v7.3zM786.76 590.9v-3.8h1.7v3.8zM790.13 590.9v-4.6h1.7v4.6zM793.51 590.9v-11.5h1.7v11.5zM796.88 590.9v-11.8h1.7v11.8zM800.25 590.9v-11.5h1.7v11.5zM803.63 590.9v-3.8h1.7v3.8zM807.00 590.9v-10.5h1.7v10.5zM810.37 590.9v-6.7h1.7v6.7zM813.75 590.9v-1.9h1.7v1.9zM817.12 590.9v-1.4h1.7v1.4zM820.49 590.9v-5.4h1.7v5.4zM823.86 590.9v-5.4h1.7v5.4zM827.24 590.9v-9.4h1.7v9.4zM830.61 590.9v-9.7h1.7v9.7zM833.98 590.9v-9.7h1.7v9.7zM837.36 590.9v-3.6h1.7v3.6zM840.73 590.9v-2.0h1.7v2.0zM844.10 590.9v-2.0h1.7v2.0zM847.48 590.9v-4.5h1.7v4.5zM850.85 590.9v-2.0h1.7v2.0zM854.22 590.9v-2.7h1.7v2.7zM857.59 590.9v-4.5h1.7v4.5zM860.97 590.9v-2.0h1.7v2.0zM864.34 590.9v-22.5h1.7v22.5zM867.71 590.9v-21.3h1.7v21.3zM871.09 590.9v-56.1h1.7v56.1zM874.46 590.9v-30.7h1.7v30.7zM877.83 590.9v-73.6h1.7v73.6zM881.21 590.9v-83.2h1.7v83.2zM884.58 590.9v-43.0h1.7v43.0zM887.95 590.9v-77.1h1.7v77.1zM891.32 590.9v-108.1h1.7v108.1zM894.70 590.9v-127.8h1.7v127.8zM898.07 590.9v-99.3h1.7v99.3zM901.44 590.9v-98.4h1.7v98.4zM904.82 590.9v-101.6h1.7v101.6zM908.19 590.9v-40.3h1.7v40.3zM911.56 590.9v-104.2h1.7v104.2z" fill="#ec6299" stroke="#ad0f55" stroke-width="0.8"/>
<path d="M83.5 148.6H86M83.5 211.4H86M83.5 274.1H86M83.5 337.1H86M83.5 399.7H86M83.5 505.3H86M83.5 547.7H86M83.5 633.2H86M83.5 675.2H86" stroke="#6a6a6a" stroke-width="1.2"/>
<path d="M89.40 718.4v3.8M92.77 718.4v2.2M96.15 718.4v2.2M99.52 718.4v2.2M102.89 718.4v2.2M106.27 718.4v2.2M109.64 718.4v2.2M113.01 718.4v3.8M116.38 718.4v2.2M119.76 718.4v2.2M123.13 718.4v2.2M126.50 718.4v2.2M129.88 718.4v2.2M133.25 718.4v2.2M136.62 718.4v2.2M140.00 718.4v2.2M143.37 718.4v2.2M146.74 718.4v2.2M150.11 718.4v2.2M153.49 718.4v2.2M156.86 718.4v2.2M160.23 718.4v2.2M163.61 718.4v3.8M166.98 718.4v2.2M170.35 718.4v2.2M173.73 718.4v2.2M177.10 718.4v2.2M180.47 718.4v2.2M183.84 718.4v2.2M187.22 718.4v2.2M190.59 718.4v2.2M193.96 718.4v2.2M197.34 718.4v2.2M200.71 718.4v2.2M204.08 718.4v2.2M207.46 718.4v2.2M210.83 718.4v2.2M214.20 718.4v2.2M217.57 718.4v2.2M220.95 718.4v2.2M224.32 718.4v2.2M227.69 718.4v3.8M231.07 718.4v2.2M234.44 718.4v2.2M237.81 718.4v2.2M241.19 718.4v2.2M244.56 718.4v2.2M247.93 718.4v2.2M251.30 718.4v2.2M254.68 718.4v2.2M258.05 718.4v2.2M261.42 718.4v2.2M264.80 718.4v2.2M268.17 718.4v2.2M271.54 718.4v2.2M274.92 718.4v2.2M278.29 718.4v2.2M281.66 718.4v2.2M285.03 718.4v2.2M288.41 718.4v2.2M291.78 718.4v2.2M295.15 718.4v2.2M298.53 718.4v3.8M301.90 718.4v2.2M305.27 718.4v2.2M308.64 718.4v2.2M312.02 718.4v2.2M315.39 718.4v2.2M318.76 718.4v2.2M322.14 718.4v2.2M325.51 718.4v2.2M328.88 718.4v2.2M332.26 718.4v2.2M335.63 718.4v2.2M339.00 718.4v2.2M342.38 718.4v2.2M345.75 718.4v2.2M349.12 718.4v2.2M352.49 718.4v2.2M355.87 718.4v2.2M359.24 718.4v2.2M362.61 718.4v2.2M365.99 718.4v3.8M369.36 718.4v2.2M372.73 718.4v2.2M376.11 718.4v2.2M379.48 718.4v2.2M382.85 718.4v2.2M386.22 718.4v2.2M389.60 718.4v2.2M392.97 718.4v2.2M396.34 718.4v2.2M399.72 718.4v2.2M403.09 718.4v2.2M406.46 718.4v2.2M409.84 718.4v2.2M413.21 718.4v2.2M416.58 718.4v2.2M419.95 718.4v2.2M423.33 718.4v2.2M426.70 718.4v2.2M430.07 718.4v2.2M433.45 718.4v3.8M436.82 718.4v2.2M440.19 718.4v2.2M443.57 718.4v2.2M446.94 718.4v2.2M450.31 718.4v2.2M453.68 718.4v2.2M457.06 718.4v2.2M460.43 718.4v2.2M463.80 718.4v2.2M467.18 718.4v2.2M470.55 718.4v2.2M473.92 718.4v2.2M477.30 718.4v2.2M480.67 718.4v2.2M484.04 718.4v2.2M487.41 718.4v2.2M490.79 718.4v2.2M494.16 718.4v2.2M497.53 718.4v2.2M500.91 718.4v2.2M504.28 718.4v3.8M507.65 718.4v2.2M511.02 718.4v2.2M514.40 718.4v2.2M517.77 718.4v2.2M521.14 718.4v2.2M524.52 718.4v2.2M527.89 718.4v2.2M531.26 718.4v2.2M534.64 718.4v2.2M538.01 718.4v2.2M541.38 718.4v2.2M544.75 718.4v2.2M548.13 718.4v2.2M551.50 718.4v2.2M554.87 718.4v2.2M558.25 718.4v2.2M561.62 718.4v2.2M564.99 718.4v2.2M568.37 718.4v2.2M571.74 718.4v2.2M575.11 718.4v2.2M578.49 718.4v2.2M581.86 718.4v3.8M585.23 718.4v2.2M588.60 718.4v2.2M591.98 718.4v2.2M595.35 718.4v2.2M598.72 718.4v2.2M602.10 718.4v2.2M605.47 718.4v2.2M608.84 718.4v2.2M612.22 718.4v2.2M615.59 718.4v2.2M618.96 718.4v2.2M622.33 718.4v2.2M625.71 718.4v2.2M629.08 718.4v2.2M632.45 718.4v2.2M635.83 718.4v2.2M639.20 718.4v2.2M642.57 718.4v2.2M645.95 718.4v2.2M649.32 718.4v2.2M652.69 718.4v3.8M656.06 718.4v2.2M659.44 718.4v2.2M662.81 718.4v2.2M666.18 718.4v2.2M669.56 718.4v2.2M672.93 718.4v2.2M676.30 718.4v2.2M679.68 718.4v2.2M683.05 718.4v2.2M686.42 718.4v2.2M689.79 718.4v2.2M693.17 718.4v2.2M696.54 718.4v2.2M699.91 718.4v2.2M703.29 718.4v2.2M706.66 718.4v2.2M710.03 718.4v2.2M713.40 718.4v2.2M716.78 718.4v2.2M720.15 718.4v2.2M723.52 718.4v3.8M726.90 718.4v2.2M730.27 718.4v2.2M733.64 718.4v2.2M737.02 718.4v2.2M740.39 718.4v2.2M743.76 718.4v2.2M747.13 718.4v2.2M750.51 718.4v2.2M753.88 718.4v2.2M757.25 718.4v2.2M760.63 718.4v2.2M764.00 718.4v2.2M767.37 718.4v2.2M770.75 718.4v2.2M774.12 718.4v2.2M777.49 718.4v2.2M780.87 718.4v2.2M784.24 718.4v2.2M787.61 718.4v2.2M790.98 718.4v3.8M794.36 718.4v2.2M797.73 718.4v2.2M801.10 718.4v2.2M804.48 718.4v2.2M807.85 718.4v2.2M811.22 718.4v2.2M814.60 718.4v2.2M817.97 718.4v2.2M821.34 718.4v2.2M824.71 718.4v2.2M828.09 718.4v2.2M831.46 718.4v2.2M834.83 718.4v2.2M838.21 718.4v2.2M841.58 718.4v2.2M844.95 718.4v2.2M848.33 718.4v2.2M851.70 718.4v2.2M855.07 718.4v2.2M858.44 718.4v3.8M861.82 718.4v2.2M865.19 718.4v2.2M868.56 718.4v2.2M871.94 718.4v2.2M875.31 718.4v2.2M878.68 718.4v2.2M882.06 718.4v2.2M885.43 718.4v2.2M888.80 718.4v2.2M892.17 718.4v2.2M895.55 718.4v2.2M898.92 718.4v2.2M902.29 718.4v2.2M905.67 718.4v2.2M909.04 718.4v2.2M912.41 718.4v3.8" stroke="#3a3a3a" stroke-width="1"/>
<g opacity="0.999">
<path d="M90 424.6H171" stroke="#d98aa8" stroke-width="1.3"/>
<path d="M90 450.6H171" stroke="#7fbcc6" stroke-width="1.3"/>
<path d="M90 680.4H171" stroke="#d98aa8" stroke-width="1.3"/>
<path d="M90 705.5H171" stroke="#7fbcc6" stroke-width="1.3"/>
<text transform="translate(170.79 433.00) scale(0.977 1)" font-size="25.2" fill="#c9205e" stroke="#c9205e" stroke-width="0.4">MA30(51.23)</text>
<text transform="translate(170.79 458.50) scale(0.977 1)" font-size="25.2" fill="#1c8ea2" stroke="#1c8ea2" stroke-width="0.4">MA10(62.24)</text>
<text transform="translate(170.79 689.00) scale(0.977 1)" font-size="25.2" fill="#c9205e" stroke="#c9205e" stroke-width="0.4">RSI30(70.97)</text>
<text transform="translate(170.79 714.00) scale(0.977 1)" font-size="25.2" fill="#1c8ea2" stroke="#1c8ea2" stroke-width="0.4">RSI10(75.08)</text>
<text transform="translate(89.76 488.54) scale(1 0.971)" font-size="25.2" font-family="'Liberation Serif','Noto Serif CJK SC',serif" fill="#c9205e" stroke="#c9205e" stroke-width="0.4">成</text>
<text transform="translate(114.87 488.54) scale(1 0.971)" font-size="25.2" font-family="'Liberation Serif','Noto Serif CJK SC',serif" fill="#c9205e" stroke="#c9205e" stroke-width="0.4">交</text>
<text transform="translate(140.59 488.54) scale(1 0.971)" font-size="25.2" font-family="'Liberation Serif','Noto Serif CJK SC',serif" fill="#c9205e" stroke="#c9205e" stroke-width="0.4">量</text>
<text transform="translate(166.44 487.00) scale(0.95 1)" font-size="25.5" fill="#c9205e" stroke="#c9205e" stroke-width="0.4">(</text>
<text transform="translate(175.06 488.54) scale(1 0.971)" font-size="25.2" font-family="'Liberation Serif','Noto Serif CJK SC',serif" fill="#c9205e" stroke="#c9205e" stroke-width="0.4">張</text>
<text transform="translate(200.52 487.00) scale(0.95 1)" font-size="25.5" fill="#c9205e" stroke="#c9205e" stroke-width="0.4">)</text>
<text transform="translate(40.37 107.70) scale(0.915 1)" font-size="27.5" fill="#111" stroke="#111" stroke-width="0.4">78.9</text>
<text transform="translate(40.37 157.90) scale(0.915 1)" font-size="27.5" fill="#111" stroke="#111" stroke-width="0.4">71.2</text>
<text transform="translate(40.37 220.60) scale(0.915 1)" font-size="27.5" fill="#111" stroke="#111" stroke-width="0.4">63.5</text>
<text transform="translate(40.37 283.50) scale(0.915 1)" font-size="27.5" fill="#111" stroke="#111" stroke-width="0.4">55.8</text>
<text transform="translate(40.37 346.50) scale(0.915 1)" font-size="27.5" fill="#111" stroke="#111" stroke-width="0.4">48.1</text>
<text transform="translate(40.37 409.10) scale(0.915 1)" font-size="27.5" fill="#111" stroke="#111" stroke-width="0.4">40.3</text>
<text transform="translate(40.37 458.20) scale(0.915 1)" font-size="27.5" fill="#111" stroke="#111" stroke-width="0.4">32.6</text>
<text transform="translate(34.08 484.80) scale(0.915 1)" font-size="27.5" fill="#111" stroke="#111" stroke-width="0.4">8732</text>
<text transform="translate(34.08 514.00) scale(0.915 1)" font-size="27.5" fill="#111" stroke="#111" stroke-width="0.4">5827</text>
<text transform="translate(34.08 556.80) scale(0.915 1)" font-size="27.5" fill="#111" stroke="#111" stroke-width="0.4">2921</text>
<text transform="translate(59.24 586.00) scale(0.915 1)" font-size="27.5" fill="#111" stroke="#111" stroke-width="0.4">16</text>
<text transform="translate(59.24 612.50) scale(0.915 1)" font-size="27.5" fill="#111" stroke="#111" stroke-width="0.4">91</text>
<text transform="translate(59.24 641.50) scale(0.915 1)" font-size="27.5" fill="#111" stroke="#111" stroke-width="0.4">66</text>
<text transform="translate(59.24 684.20) scale(0.915 1)" font-size="27.5" fill="#111" stroke="#111" stroke-width="0.4">40</text>
<text transform="translate(59.24 714.00) scale(0.915 1)" font-size="27.5" fill="#111" stroke="#111" stroke-width="0.4">14</text>
<text transform="translate(246.10 100.00) scale(0.93 1)" font-size="26.6" fill="#111" stroke="#111" stroke-width="0.4">03/21</text>
<text transform="translate(253.21 125.40) scale(0.93 1)" font-size="26.6" fill="#111" stroke="#111" stroke-width="0.4">73.6</text>
<text transform="translate(546.83 440.30) scale(0.93 1)" font-size="26.6" fill="#111" stroke="#111" stroke-width="0.4">07/30</text>
<text transform="translate(546.86 466.70) scale(0.93 1)" font-size="26.6" fill="#111" stroke="#111" stroke-width="0.4">37.95</text>
<text transform="translate(78.46 744.60) scale(0.875 1)" font-size="26.2" fill="#111" stroke="#111" stroke-width="0.4">12</text>
<text transform="translate(107.36 744.60) scale(0.875 1)" font-size="26.2" fill="#111" stroke="#111" stroke-width="0.4">1</text>
<text transform="translate(158.40 744.60) scale(0.875 1)" font-size="26.2" fill="#111" stroke="#111" stroke-width="0.4">2</text>
<text transform="translate(222.26 744.60) scale(0.875 1)" font-size="26.2" fill="#111" stroke="#111" stroke-width="0.4">3</text>
<text transform="translate(293.15 744.60) scale(0.875 1)" font-size="26.2" fill="#111" stroke="#111" stroke-width="0.4">4</text>
<text transform="translate(360.44 744.60) scale(0.875 1)" font-size="26.2" fill="#111" stroke="#111" stroke-width="0.4">5</text>
<text transform="translate(427.96 744.60) scale(0.875 1)" font-size="26.2" fill="#111" stroke="#111" stroke-width="0.4">6</text>
<text transform="translate(498.52 744.60) scale(0.875 1)" font-size="26.2" fill="#111" stroke="#111" stroke-width="0.4">7</text>
<text transform="translate(576.53 744.60) scale(0.875 1)" font-size="26.2" fill="#111" stroke="#111" stroke-width="0.4">8</text>
<text transform="translate(647.46 744.60) scale(0.875 1)" font-size="26.2" fill="#111" stroke="#111" stroke-width="0.4">9</text>
<text transform="translate(711.89 744.60) scale(0.875 1)" font-size="26.2" fill="#111" stroke="#111" stroke-width="0.4">10</text>
<text transform="translate(779.60 744.60) scale(0.875 1)" font-size="26.2" fill="#111" stroke="#111" stroke-width="0.4">11</text>
<text transform="translate(847.01 744.60) scale(0.875 1)" font-size="26.2" fill="#111" stroke="#111" stroke-width="0.4">12</text>
<text transform="translate(886.73 744.80) scale(0.875 1)" font-size="26.2" fill="#111" stroke="#111" stroke-width="0.4">12/23</text>
<text transform="translate(77.99 770.00) scale(0.875 1)" font-size="26.2" fill="#111" stroke="#111" stroke-width="0.4">113</text>
<text transform="translate(119.99 770.00) scale(0.875 1)" font-size="26.2" fill="#111" stroke="#111" stroke-width="0.4">14</text>
<path d="M114 753V770.2h2.2" stroke="#222" stroke-width="1.1" fill="none"/>
<text transform="translate(86.18 40.90) scale(0.865 1)" font-size="37" fill="#111" stroke="#111" stroke-width="0.4">8431</text>
<text transform="translate(168.97 41.57) scale(1 0.995)" font-size="33" font-family="'Liberation Serif','Noto Serif CJK SC',serif" fill="#111" stroke="#111" stroke-width="0.4">匯</text>
<text transform="translate(203.33 41.57) scale(1 0.995)" font-size="33" font-family="'Liberation Serif','Noto Serif CJK SC',serif" fill="#111" stroke="#111" stroke-width="0.4">鑽</text>
<text transform="translate(238.05 41.57) scale(1 0.995)" font-size="33" font-family="'Liberation Serif','Noto Serif CJK SC',serif" fill="#111" stroke="#111" stroke-width="0.4">科</text>
<text transform="translate(271.92 41.57) scale(1 0.995)" font-size="33" font-family="'Liberation Serif','Noto Serif CJK SC',serif" fill="#111" stroke="#111" stroke-width="0.4">技</text>
<text transform="translate(315.19 40.90) scale(0.865 1)" font-size="37" fill="#111" stroke="#111" stroke-width="0.4">1141223(</text>
<text transform="translate(439.19 41.57) scale(1 0.995)" font-size="33" font-family="'Liberation Serif','Noto Serif CJK SC',serif" fill="#111" stroke="#111" stroke-width="0.4">日</text>
<text transform="translate(473.45 41.57) scale(1 0.995)" font-size="33" font-family="'Liberation Serif','Noto Serif CJK SC',serif" fill="#111" stroke="#111" stroke-width="0.4">線</text>
<text transform="translate(507.51 41.57) scale(1 0.995)" font-size="33" font-family="'Liberation Serif','Noto Serif CJK SC',serif" fill="#111" stroke="#111" stroke-width="0.4">圖</text>
<text transform="translate(540.97 40.90) scale(0.865 1)" font-size="37" fill="#111" stroke="#111" stroke-width="0.4">)</text>
<text transform="translate(789.55 44.96) scale(1 1.014)" font-size="31.3" font-family="'Liberation Serif','Noto Serif CJK SC',serif" fill="#111" stroke="#111" stroke-width="0.4">時</text>
<text transform="translate(821.65 44.96) scale(1 1.014)" font-size="31.3" font-family="'Liberation Serif','Noto Serif CJK SC',serif" fill="#111" stroke="#111" stroke-width="0.4">報</text>
<text transform="translate(853.41 44.96) scale(1 1.014)" font-size="31.3" font-family="'Liberation Serif','Noto Serif CJK SC',serif" fill="#111" stroke="#111" stroke-width="0.4">資</text>
<text transform="translate(885.08 44.96) scale(1 1.014)" font-size="31.3" font-family="'Liberation Serif','Noto Serif CJK SC',serif" fill="#111" stroke="#111" stroke-width="0.4">訊</text>
<text transform="translate(84.52 75.55) scale(1 0.952)" font-size="32.2" font-family="'Liberation Serif','Noto Serif CJK SC',serif" fill="#111" stroke="#111" stroke-width="0.4">開</text>
<text transform="translate(117.18 74.80) scale(0.855 1)" font-size="34.3" fill="#111" stroke="#111" stroke-width="0.4">:63.1</text>
<text transform="translate(185.79 75.55) scale(1 0.952)" font-size="32.2" font-family="'Liberation Serif','Noto Serif CJK SC',serif" fill="#111" stroke="#111" stroke-width="0.4">高</text>
<text transform="translate(217.68 74.80) scale(0.855 1)" font-size="34.3" fill="#111" stroke="#111" stroke-width="0.4">:69.9</text>
<text transform="translate(287.08 75.55) scale(1 0.952)" font-size="32.2" font-family="'Liberation Serif','Noto Serif CJK SC',serif" fill="#111" stroke="#111" stroke-width="0.4">低</text>
<text transform="translate(318.68 74.80) scale(0.855 1)" font-size="34.3" fill="#111" stroke="#111" stroke-width="0.4">:63.1</text>
<text transform="translate(386.67 75.55) scale(1 0.952)" font-size="32.2" font-family="'Liberation Serif','Noto Serif CJK SC',serif" fill="#111" stroke="#111" stroke-width="0.4">收</text>
<text transform="translate(419.18 74.80) scale(0.855 1)" font-size="34.3" fill="#111" stroke="#111" stroke-width="0.4">:69.9</text>
<text transform="translate(488.12 75.55) scale(1 0.952)" font-size="32.2" font-family="'Liberation Serif','Noto Serif CJK SC',serif" fill="#111" stroke="#111" stroke-width="0.4">量</text>
<text transform="translate(520.18 74.80) scale(0.855 1)" font-size="34.3" fill="#111" stroke="#111" stroke-width="0.4">:7151</text>
<text transform="translate(595.93 75.55) scale(1 0.952)" font-size="32.2" font-family="'Liberation Serif','Noto Serif CJK SC',serif" fill="#111" stroke="#111" stroke-width="0.4">漲</text>
<text transform="translate(636.34 74.80) scale(0.855 1)" font-size="34.3" fill="#111" stroke="#111" stroke-width="0.4">6.3</text>
</g>
</svg>
</body></html>
